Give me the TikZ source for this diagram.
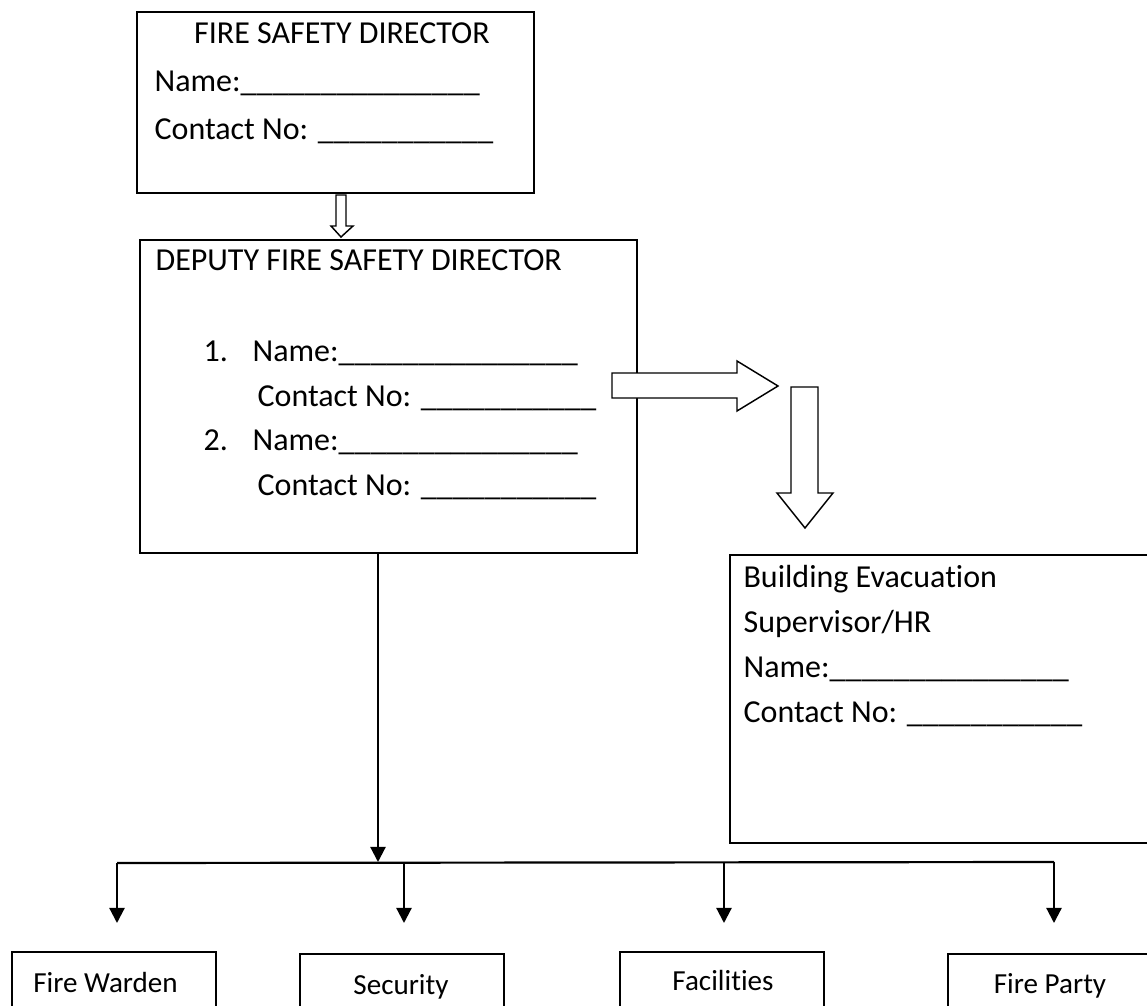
\documentclass[tikz,border=0pt]{standalone}
\usepackage{fontspec}
\setmainfont[Ligatures={NoCommon,TeX}]{Carlito}
\usetikzlibrary{arrows.meta,fit}
\newcommand{\uline}[1]{\foreach \i in {1,...,#1}{\_}}
\begin{document}
\begin{tikzpicture}[x=0.34375pt,y=-0.34375pt,
  box/.style={draw,line width=0.75pt,inner sep=0pt},
  txt/.style={inner sep=0pt,anchor=base west,font=\fontsize{11}{13}\selectfont},
  txtc/.style={inner sep=0pt,anchor=base,font=\fontsize{11}{13}\selectfont},
  small/.style={inner sep=0pt,anchor=base,font=\fontsize{10}{12}\selectfont},
  conn/.style={line width=0.75pt,-{Triangle[width=5.2pt,length=5.2pt]}},
  bar/.style={line width=0.75pt},
  blk/.style={draw,line width=0.5pt,fill=white,line join=miter}]
\useasboundingbox (0,0) rectangle (1147,1006);
\clip (0,0) rectangle (1147,1006);

% boxes
\node[box,fit={(137,12) (534,193)}] (b1) {};
\node[box,fit={(140,240) (637,553)}] (b2) {};
\node[box,fit={(730,555) (1170,843)}] (b3) {};
\node[box,fit={(12,952) (216,1030)}] (fw) {};
\node[box,fit={(300,954) (504,1030)}] (sec) {};
\node[box,fit={(620,952) (824,1030)}] (fac) {};
\node[box,fit={(948,954) (1170,1030)}] (fp) {};

% box 1 text
\node[txtc] (t11) at (342,44) {FIRE SAFETY DIRECTOR};
\node[txt] (t12) at (154,92) {Name:\uline{15}};
\node[txt] (t13) at (154,140) {Contact No: \uline{11}};

% box 2 text
\node[txt] (t21) at (155,271) {DEPUTY FIRE SAFETY DIRECTOR};
\node[txt] (t22n) at (203,361) {1.};
\node[txt] (t22) at (252,361) {Name:\uline{15}};
\node[txt] (t23) at (257,406) {Contact No: \uline{11}};
\node[txt] (t24n) at (203,450) {2.};
\node[txt] (t24) at (252,450) {Name:\uline{15}};
\node[txt] (t25) at (257,495) {Contact No: \uline{11}};

% box 3 text
\node[txt] (t31) at (743,587) {Building Evacuation};
\node[txt] (t32) at (743,632) {Supervisor/HR};
\node[txt] (t33) at (743,677) {Name:\uline{15}};
\node[txt] (t34) at (743,722) {Contact No: \uline{11}};

% bottom text
\node[small] (tfw) at (105.5,992) {Fire Warden};
\node[small] (tsec) at (401,994) {Security};
\node[small] (tfac) at (723,990) {Facilities};
\node[small] (tfp) at (1050,993) {Fire Party};

% block arrows
\draw[blk] (336,195) -- (346,195) -- (346,226) -- (353,226) -- (341,237) -- (331,226) -- (336,226) -- cycle;
\draw[blk] (612,373) -- (737,373) -- (737,361) -- (778,386) -- (737,411) -- (737,398) -- (612,398) -- cycle;
\draw[blk] (791,387) -- (818,387) -- (818,493) -- (833,493) -- (805,528) -- (777,493) -- (791,493) -- cycle;

% connectors
\coordinate (trunk) at (378,862);
\coordinate (barL) at (117,863);
\coordinate (barR) at (1054,862);
\coordinate (d2) at (404,863);
\coordinate (d3) at (724,862);
\coordinate (e1) at (117,923);
\coordinate (e2) at (404,923);
\coordinate (e3) at (724,923);
\coordinate (e4) at (1054,923);
\draw[conn] (b2.south -| trunk) -- (trunk);
\draw[bar] (barL) -- (barR);
\draw[conn] (barL) -- (e1);
\draw[conn] (d2) -- (e2);
\draw[conn] (d3) -- (e3);
\draw[conn] (barR) -- (e4);
\end{tikzpicture}
\end{document}
